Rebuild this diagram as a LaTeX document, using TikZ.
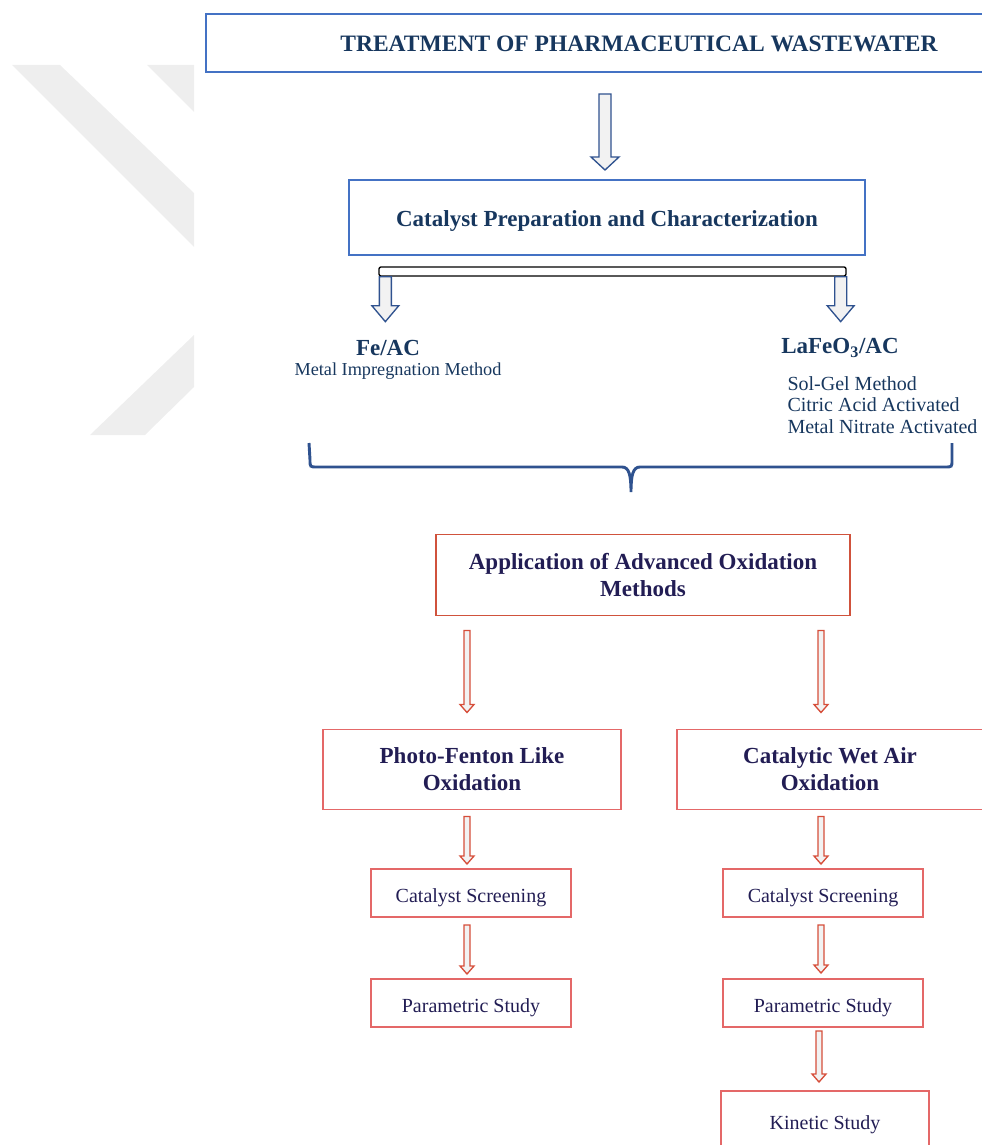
\documentclass[tikz,border=0pt]{standalone}
\usepackage{fontspec}
\setmainfont{Liberation Serif}
\usetikzlibrary{calc}

\definecolor{boxblue}{RGB}{68,114,196}
\definecolor{arrblue}{RGB}{47,82,143}
\definecolor{txtnavy}{RGB}{23,55,94}
\definecolor{boxred}{RGB}{208,82,60}
\definecolor{boxpink}{RGB}{228,104,104}
\definecolor{arrred}{RGB}{214,78,58}
\definecolor{txtindigo}{RGB}{34,29,84}
\definecolor{wmgray}{RGB}{238,238,238}

\tikzset{every picture/.style={line width=0.75pt}}
\tikzset{
  oneline/.style={text height=13.5pt, text depth=0pt},
  bluebox/.style={draw=boxblue, line width=1pt, inner sep=0pt, outer sep=0pt, oneline, text=txtnavy, font=\fontsize{17.25}{20.25}\selectfont\bfseries},
  redbox/.style={draw=boxred, line width=1pt, inner sep=0pt, outer sep=0pt, align=center, text=txtindigo, font=\fontsize{17.25}{20.25}\selectfont\bfseries},
  pinkbox/.style={draw=boxpink, line width=1pt, inner sep=0pt, outer sep=0pt, align=center, text=txtindigo, font=\fontsize{15}{18}\selectfont},
  catname/.style={text=txtnavy, inner sep=0pt, font=\fontsize{17.25}{20}\selectfont\bfseries},
  catnote/.style={text=txtnavy, inner sep=0pt, align=left},
  bluearr/.style={draw=arrblue, fill=black!5, line width=1pt, line join=miter},
  redarr/.style={draw=arrred, fill=black!5, line width=1pt, line join=miter},
  bracestyle/.style={draw=arrblue, line width=2.2pt}
}
% hollow block arrow pointing down: style, top, tip, shaft half, head half, head length
\newcommand{\hollowdown}[6]{%
  \draw[#1] ($(#2)+(-#4,0)$) -- ($(#2)+(#4,0)$) -- ($(#3)+(#4,-#6)$) -- ($(#3)+(#5,-#6)$)
    -- (#3) -- ($(#3)+(-#5,-#6)$) -- ($(#3)+(-#4,-#6)$) -- cycle;}

\begin{document}
\begin{tikzpicture}[x=0.75pt,y=0.75pt,yscale=-1,xscale=1]
\useasboundingbox (0,0) rectangle (981,1145);

% watermark
\fill[wmgray] (12,65) -- (60,65) -- (194,193) -- (194,247) -- cycle;
\fill[wmgray] (147,65) -- (194,65) -- (194,112) -- cycle;
\fill[wmgray] (90,435) -- (194,335) -- (194,387) -- (145,435) -- cycle;

% upper part
\node[bluebox, font=\fontsize{17.65}{20.25}\selectfont\bfseries, minimum width=649.5pt, minimum height=43.5pt] (title) at (639,43) {TREATMENT OF PHARMACEUTICAL WASTEWATER};
\node[bluebox, minimum width=387pt, minimum height=56.25pt] (prep) at (607,217.5) {Catalyst Preparation and Characterization};
\node[draw=black, fill=white, line width=1pt, rounded corners=1.5pt, inner sep=0pt, minimum width=350.25pt, minimum height=6.75pt] (bar) at (612.5,271.5) {};

\node[catname] (feac) at (388,348) {Fe/AC};
\node[catnote, font=\fontsize{13.7}{16}\selectfont] (feacm) at (398,371) {Metal Impregnation Method};
\node[catname] (lafeo) at (840,348) {LaFeO\textsubscript{3}/AC};
\node[catnote, anchor=west, font=\fontsize{15}{16.1}\selectfont] (lafeom) at (787,405) {Sol-Gel Method\\Citric Acid Activated\\Metal Nitrate Activated};

\coordinate (a1t) at ($(prep.north)+(-2,-86)$);
\coordinate (a1b) at ($(prep.north)+(-2,-10)$);
\coordinate (b1t) at ($(bar.south west)+(7,0)$);
\coordinate (b1b) at ($(bar.south west)+(7,45)$);
\coordinate (b2t) at ($(bar.south east)+(-6,0)$);
\coordinate (b2b) at ($(bar.south east)+(-6,45)$);
\hollowdown{bluearr}{a1t}{a1b}{6}{14}{13}
\hollowdown{bluearr}{b1t}{b1b}{6}{13.5}{16}
\hollowdown{bluearr}{b2t}{b2b}{6}{13.5}{16}

\draw[bracestyle] (309,443) -- (310,460) .. controls (310,467) .. (317,467) -- (622,467)
  .. controls (629,467) and (631,475) .. (631,492) .. controls (631,475) and (633,467) .. (640,467)
  -- (945,467) .. controls (952,467) .. (952,460) -- (952,443);

% lower part
\node[redbox, minimum width=310.5pt, minimum height=60.75pt] (app) at (643,575) {Application of Advanced Oxidation\\Methods};
\node[pinkbox, font=\fontsize{17.25}{20.25}\selectfont\bfseries, minimum width=223.5pt, minimum height=60pt] (pfl) at (472,769.5) {Photo-Fenton Like\\Oxidation};
\node[pinkbox, font=\fontsize{17.25}{20.25}\selectfont\bfseries, minimum width=229.5pt, minimum height=60pt] (cwao) at (830,769.5) {Catalytic Wet Air\\Oxidation};
\node[pinkbox, oneline, minimum width=150pt, minimum height=36pt] (scr1) at (471,893) {Catalyst Screening};
\node[pinkbox, oneline, minimum width=150pt, minimum height=36pt] (scr2) at (823,893) {Catalyst Screening};
\node[pinkbox, oneline, minimum width=150pt, minimum height=36pt] (par1) at (471,1003) {Parametric Study};
\node[pinkbox, oneline, minimum width=150pt, minimum height=36pt] (par2) at (823,1003) {Parametric Study};
\node[pinkbox, oneline, text height=12pt, minimum width=156pt, minimum height=45pt] (kin) at (825,1121) {Kinetic Study};

\coordinate (c1t) at ($(app.south west)+(31,15)$);
\coordinate (c1b) at ($(app.south west)+(31,97)$);
\coordinate (c2t) at ($(app.south east)+(-29,15)$);
\coordinate (c2b) at ($(app.south east)+(-29,97)$);
\coordinate (d1t) at ($(scr1.north |- pfl.south)+(-4,7)$);
\coordinate (d1b) at ($(scr1.north)+(-4,-5)$);
\coordinate (d2t) at ($(scr2.north |- cwao.south)+(-2,7)$);
\coordinate (d2b) at ($(scr2.north)+(-2,-5)$);
\coordinate (e1t) at ($(scr1.south)+(-4,8)$);
\coordinate (e1b) at ($(par1.north)+(-4,-5)$);
\coordinate (e2t) at ($(scr2.south)+(-2,8)$);
\coordinate (e2b) at ($(par2.north)+(-2,-6)$);
\coordinate (f2t) at ($(par2.south)+(-4,4)$);
\coordinate (f2b) at ($(kin.north)+(-6,-9)$);
\hollowdown{redarr}{c1t}{c1b}{3}{7}{8}
\hollowdown{redarr}{c2t}{c2b}{3}{7}{8}
\hollowdown{redarr}{d1t}{d1b}{3}{7}{8}
\hollowdown{redarr}{d2t}{d2b}{3}{7}{8}
\hollowdown{redarr}{e1t}{e1b}{3}{7}{8}
\hollowdown{redarr}{e2t}{e2b}{3}{7}{8}
\hollowdown{redarr}{f2t}{f2b}{3}{7}{8}

\end{tikzpicture}
\end{document}
